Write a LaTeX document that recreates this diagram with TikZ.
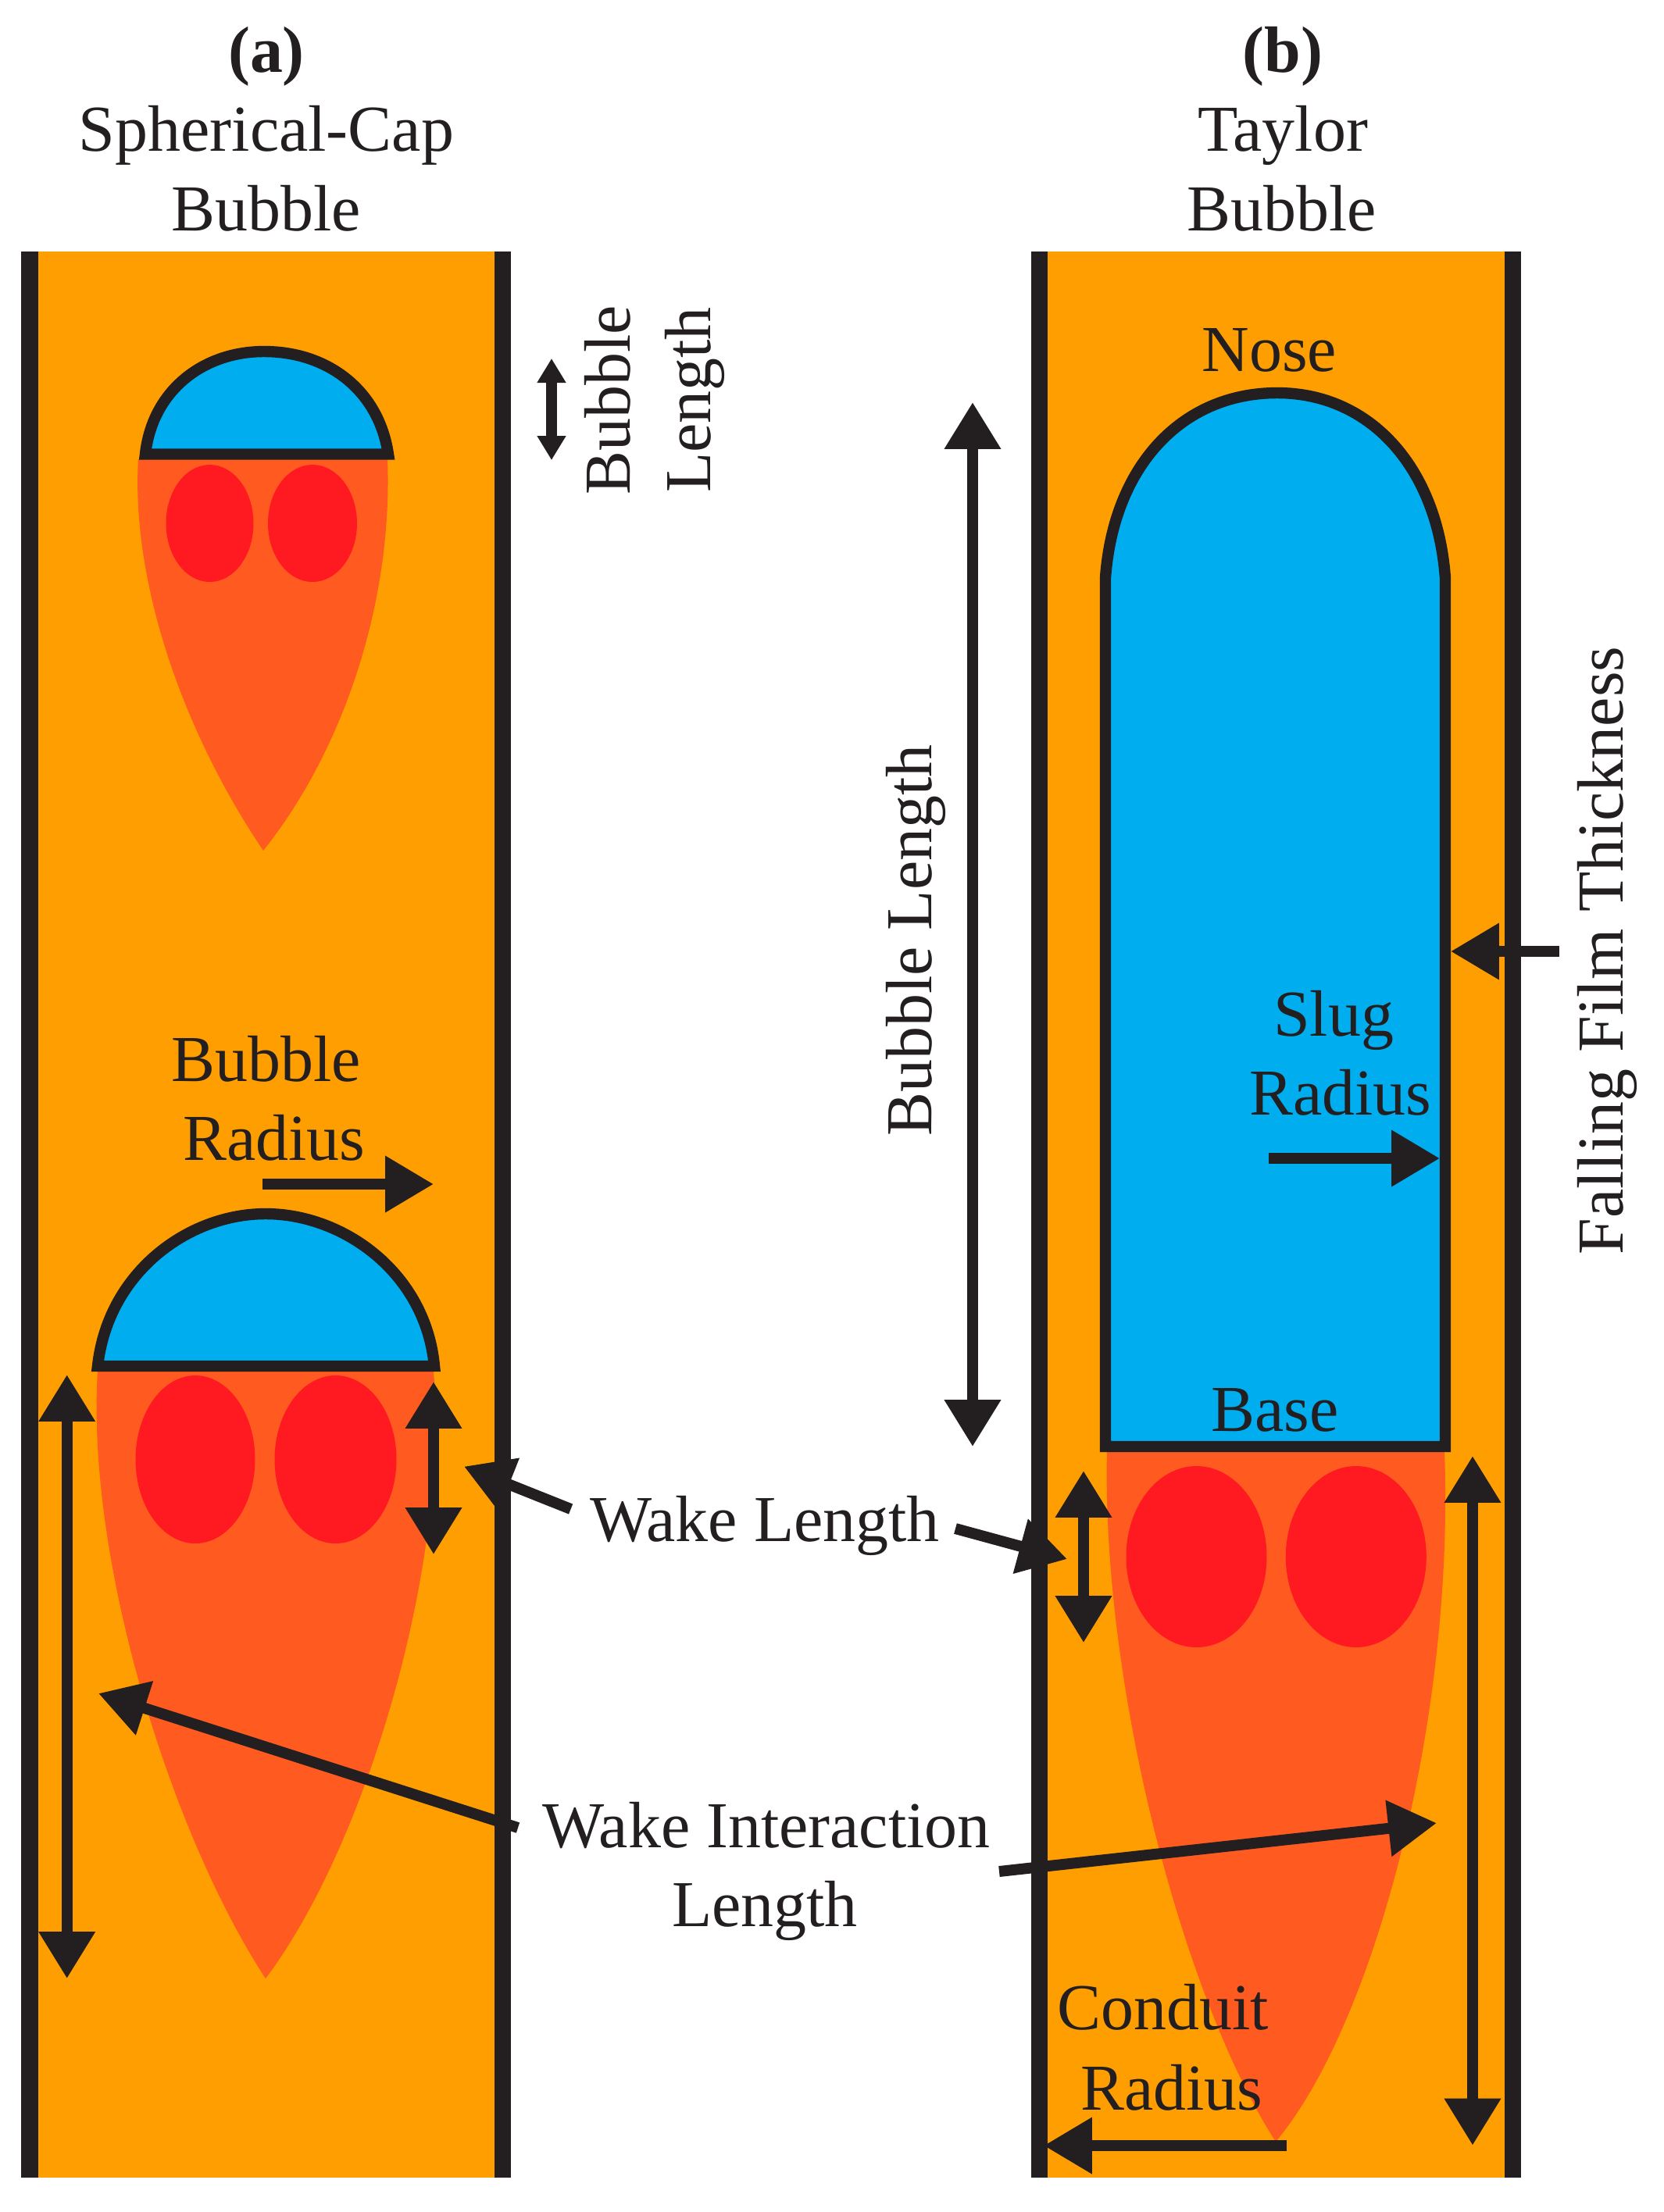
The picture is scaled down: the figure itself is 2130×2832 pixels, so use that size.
\documentclass[tikz,border=0pt]{standalone}
\usepackage{fontspec}
\setmainfont{Liberation Serif}
\usetikzlibrary{arrows.meta}
\definecolor{magma}{HTML}{FF9E00}
\definecolor{wakeC}{HTML}{FF5A1F}
\definecolor{eddy}{HTML}{FF1A22}
\definecolor{gas}{HTML}{00AEEF}
\definecolor{ink}{HTML}{231F20}
\tikzset{
  lbl/.style={inner sep=0pt,text=ink,font=\fontsize{11.95}{14}\selectfont},
  lblb/.style={lbl,font=\fontsize{11.95}{14}\selectfont\bfseries},
  conduit/.style={fill=magma},
  wallbar/.style={fill=ink},
  wakeshape/.style={fill=wakeC},
  eddyshape/.style={fill=eddy},
  bubble/.style={fill=gas,draw=ink,line width=0.072cm,line join=miter},
  dim/.style={draw=ink,line width=0.07cm,{Triangle[width=0.345cm,length=0.3cm]}-{Triangle[width=0.345cm,length=0.3cm]}},
  dimsmall/.style={draw=ink,line width=0.07cm,{Triangle[width=0.175cm,length=0.155cm]}-{Triangle[width=0.175cm,length=0.155cm]}},
  lead/.style={draw=ink,line width=0.07cm,-{Triangle[width=0.345cm,length=0.31cm]}}
}
\begin{document}
\begin{tikzpicture}[x=0.005cm,y=-0.005cm]
\useasboundingbox (0,0) rectangle (2130,2832);
% conduits
\fill[conduit] (27,322) rectangle (654,2788);
\fill[wallbar] (27,322) rectangle (48.5,2788);
\fill[wallbar] (633,322) rectangle (654,2788);
\fill[conduit] (1320,322) rectangle (1946.5,2788);
\fill[wallbar] (1320,322) rectangle (1341,2788);
\fill[wallbar] (1926,322) rectangle (1946.5,2788);
% small spherical cap
\fill[wakeshape] (177,588) .. controls (168,740) and (230,930) .. (337,1089) .. controls (440,960) and (503,770) .. (496,588) -- cycle;
\fill[eddyshape] (268.5,670) ellipse [x radius=56,y radius=75];
\fill[eddyshape] (400,670) ellipse [x radius=57,y radius=75];
\path[bubble] (186,581.5) .. controls (195,500) and (260,450) .. (338,450) .. controls (420,450) and (485,500) .. (497,581.5) -- cycle;
% large spherical cap
\fill[wakeshape] (125,1755) .. controls (110,2000) and (220,2350) .. (340,2533) .. controls (470,2360) and (575,2000) .. (555,1755) -- cycle;
\fill[eddyshape] (250,1868.5) ellipse [x radius=76.5,y radius=107.5];
\fill[eddyshape] (429.5,1868.5) ellipse [x radius=78,y radius=107.5];
\path[bubble] (125,1749) .. controls (138,1630) and (240,1554) .. (340,1554) .. controls (440,1554) and (545,1630) .. (556,1749) -- cycle;
% Taylor bubble
\fill[wakeshape] (1417,1858) .. controls (1410,2150) and (1510,2550) .. (1633,2742) .. controls (1760,2590) and (1862,2200) .. (1849,1858) -- cycle;
\fill[eddyshape] (1531.5,1993) ellipse [x radius=90,y radius=116];
\fill[eddyshape] (1735.8,1993) ellipse [x radius=90,y radius=116];
\path[bubble] (1415,1852) -- (1415,740) .. controls (1425,600) and (1510,503) .. (1635,503) .. controls (1755,503) and (1840,600) .. (1850,740) -- (1850,1852) -- cycle;
% labels
\node[lblb] (tA) at (341,72) {(a)};
\node[lbl] (sc) at (341,173) {Spherical-Cap};
\node[lbl] (sb) at (341,267) {Bubble};
\node[lblb] (tB) at (1642,72) {(b)};
\node[lbl] (ty) at (1642,173) {Taylor};
\node[lbl] (tb) at (1641,267) {Bubble};
\node[lbl,rotate=90] (bl1) at (778,512) {Bubble};
\node[lbl,rotate=90] (bl2) at (889,512) {Length};
\node[lbl] (nose) at (1625,448) {Nose};
\node[lbl,rotate=90] (blb) at (1172,1204) {Bubble Length};
\node[lbl,rotate=90] (fft) at (2057,1217) {Falling Film Thickness};
\node[lbl] (slug) at (1707,1306) {Slug};
\node[lbl] (slugr) at (1716,1399) {Radius};
\node[lbl] (base) at (1632,1805) {Base};
\node[lbl] (br1) at (341,1356) {Bubble};
\node[lbl] (br2) at (351,1457) {Radius};
\node[lbl] (wl) at (979,1953) {Wake Length};
\node[lbl] (wi1) at (981,2337) {Wake Interaction};
\node[lbl] (wi2) at (979,2446) {Length};
\node[lbl] (cr1) at (1489,2570) {Conduit};
\node[lbl] (cr2) at (1500,2673) {Radius};
% connector ends
\coordinate (a1t) at (706,459);   \coordinate (a1b) at (706,589);
\coordinate (a2s) at (336,1516);  \coordinate (a2e) at (555,1516);
\coordinate (a3t) at (85.7,1760); \coordinate (a3b) at (85.7,2533);
\coordinate (a4t) at (555,1769);  \coordinate (a4b) at (555,1990);
\coordinate (a5s) at (730.6,1932);\coordinate (a5e) at (594,1877.5);
\coordinate (a6s) at (663,2340);  \coordinate (a6e) at (126,2168);
\coordinate (b1t) at (1245,515);  \coordinate (b1b) at (1245,1852);
\coordinate (b2s) at (1996,1218); \coordinate (b2e) at (1857,1218);
\coordinate (b3s) at (1624,1483); \coordinate (b3e) at (1843,1483);
\coordinate (b4t) at (1387,1883); \coordinate (b4b) at (1387,2103);
\coordinate (b5s) at (1223,1957); \coordinate (b5e) at (1366,1996);
\coordinate (b6s) at (1279,2396); \coordinate (b6e) at (1839,2334);
\coordinate (b7t) at (1885,1864); \coordinate (b7b) at (1885,2746.6);
\coordinate (b8s) at (1647,2747); \coordinate (b8e) at (1336,2747);
% connectors
\draw[dimsmall] (a1t) -- (a1b);
\draw[lead] (a2s) -- (a2e);
\draw[dim] (a3t) -- (a3b);
\draw[dim] (a4t) -- (a4b);
\draw[lead] (a5s) -- (a5e);
\draw[lead] (a6s) -- (a6e);
\draw[dim] (b1t) -- (b1b);
\draw[lead] (b2s) -- (b2e);
\draw[lead] (b3s) -- (b3e);
\draw[dim] (b4t) -- (b4b);
\draw[lead] (b5s) -- (b5e);
\draw[lead] (b6s) -- (b6e);
\draw[dim] (b7t) -- (b7b);
\draw[lead] (b8s) -- (b8e);
\end{tikzpicture}
\end{document}
